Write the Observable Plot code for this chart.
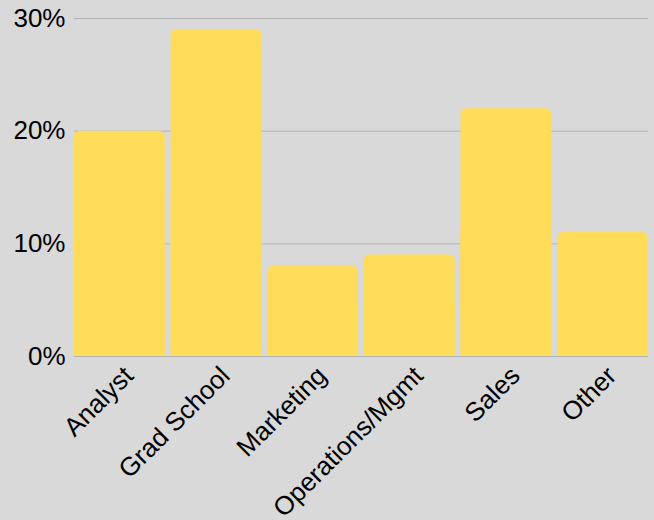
<!DOCTYPE html>
<html>
<head>
<meta charset="utf-8">
<script src="https://cdn.jsdelivr.net/npm/d3@7"></script>
<script src="https://cdn.jsdelivr.net/npm/@observablehq/plot@0.6"></script>
<style>
  html, body { margin: 0; padding: 0; background: #d9d9d9; }
  #chart svg { display: block; }
</style>
</head>
<body>
<div id="chart"></div>
<script>
const categories = ["Analyst", "Grad School", "Marketing", "Operations/Mgmt", "Sales", "Other"];
const values = [20, 29, 8, 9, 22, 11];
const yTicks = [0, 10, 20, 30];

const data = categories.map((c, i) => ({category: c, value: values[i]}));

const chart = Plot.plot({
  width: 654,
  height: 520,
  marginLeft: 74,
  marginRight: 6,
  marginTop: 18,
  marginBottom: 164,
  style: {background: "#d9d9d9", fontFamily: "Liberation Sans, Arial, sans-serif", fontSize: "26px", color: "#000"},
  x: {domain: categories, paddingInner: 0.06, paddingOuter: 0, round: false, label: null},
  y: {domain: [0, 30], ticks: yTicks, label: null, tickFormat: d => d + "%"},
  marks: [
    Plot.ruleY(yTicks, {stroke: "#b3b3b3", strokeWidth: 1}),
    Plot.barY(data, {x: "category", y: "value", fill: "#ffdc5a", rx: 6}),
    Plot.barY(data, {x: "category", y1: 0, y2: d => d.value / 2, fill: "#ffdc5a"}),
    Plot.axisY({ticks: yTicks, tickFormat: d => d + "%", tickSize: 0, tickPadding: 9, fontSize: 26}),
    Plot.axisX({tickSize: 0, tickRotate: -45, tickPadding: 10, fontSize: 26, dx: 9, dy: 5})
  ]
});
document.getElementById("chart").appendChild(chart);
</script>
</body>
</html>
